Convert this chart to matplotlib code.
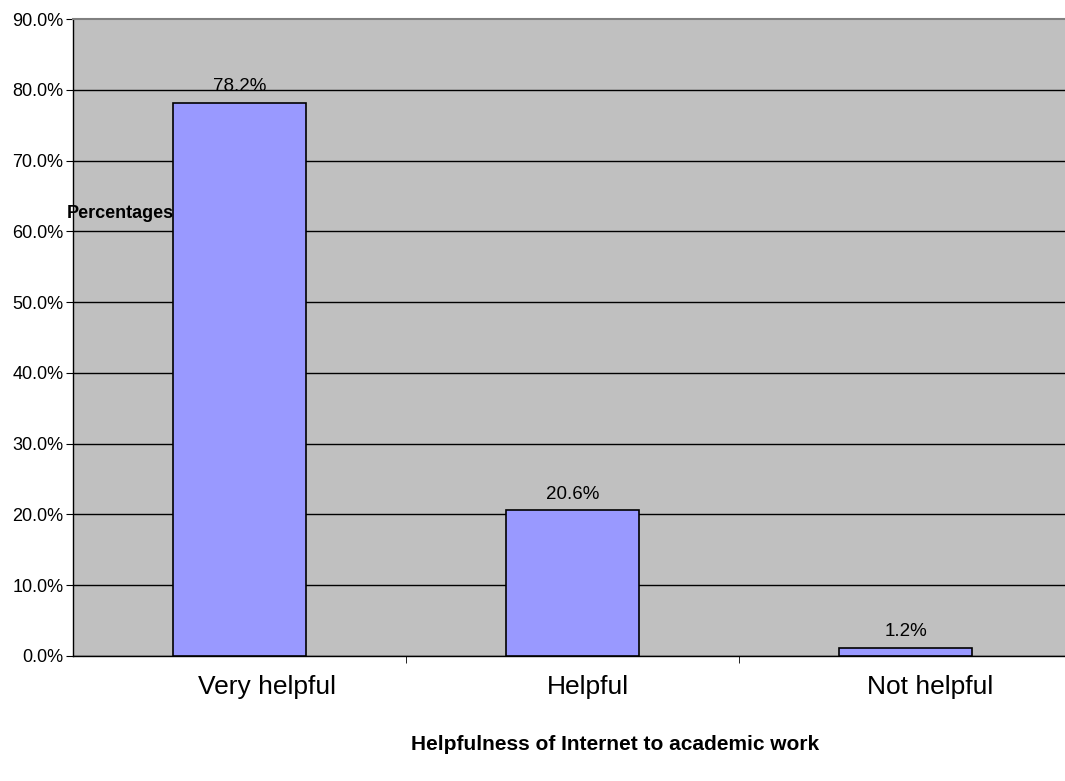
import matplotlib
matplotlib.use("Agg")
import matplotlib.pyplot as plt
import matplotlib.transforms as mtransforms
from matplotlib.ticker import PercentFormatter

plt.rcParams['font.family'] = ['Liberation Sans', 'DejaVu Sans']

# data
categories = ["Very helpful", "Helpful", "Not helpful"]
percentages = [78.2, 20.6, 1.2]
y_ticks = [0, 10, 20, 30, 40, 50, 60, 70, 80, 90]

# the original category labels sit a little right of the bar centres (pixels)
label_shift_px = [27, 15, 25]

fig = plt.figure(figsize=(10.65, 7.81), dpi=100)
ax = fig.add_axes([73 / 1065, 1 - 656 / 781, 999 / 1065, 637 / 781])
ax.set_facecolor("#C0C0C0")

x = list(range(len(categories)))
bars = ax.bar(x, percentages, width=0.4, color="#9999FF", edgecolor="black",
              linewidth=1.2, zorder=3)

for rect, v in zip(bars, percentages):
    ax.text(rect.get_x() + rect.get_width() / 2, v + 1.0, f"{v:.1f}%",
            ha="center", va="bottom", fontsize=13.5, zorder=4)

ax.set_xlim(-0.5, len(categories) - 0.5)
ax.set_ylim(0, 90)
ax.set_yticks(y_ticks)
ax.yaxis.set_major_formatter(PercentFormatter(decimals=1))
ax.grid(axis="y", color="black", linewidth=1, zorder=1)
ax.get_ygridlines()[-1].set_visible(False)

# category labels under bars, tick marks between categories
ax.set_xticks(x)
ax.set_xticklabels(categories, fontsize=19)
ax.tick_params(axis="x", length=0, pad=14)
for lbl, dx in zip(ax.get_xticklabels(), label_shift_px):
    lbl.set_transform(lbl.get_transform() +
                      mtransforms.ScaledTranslation(dx / 100, 0, fig.dpi_scale_trans))
ax.set_xticks([0.5, 1.5], minor=True)
ax.tick_params(axis="x", which="minor", length=5, direction="out")
ax.tick_params(axis="y", labelsize=13, length=5, pad=2)

ax.spines["right"].set_visible(False)
ax.spines["top"].set_color("#808080")
ax.spines["top"].set_linewidth(1.5)
ax.spines["left"].set_linewidth(1)
ax.spines["bottom"].set_linewidth(1)

fig.text(67 / 1065, 1 - 214 / 781, "Percentages", fontsize=13, fontweight="bold",
         ha="left", va="center", zorder=5)
fig.text(615 / 1065, 1 - 745 / 781, "Helpfulness of Internet to academic work",
         fontsize=15, fontweight="bold", ha="center", va="center")

fig.savefig("out.png", dpi=100)
